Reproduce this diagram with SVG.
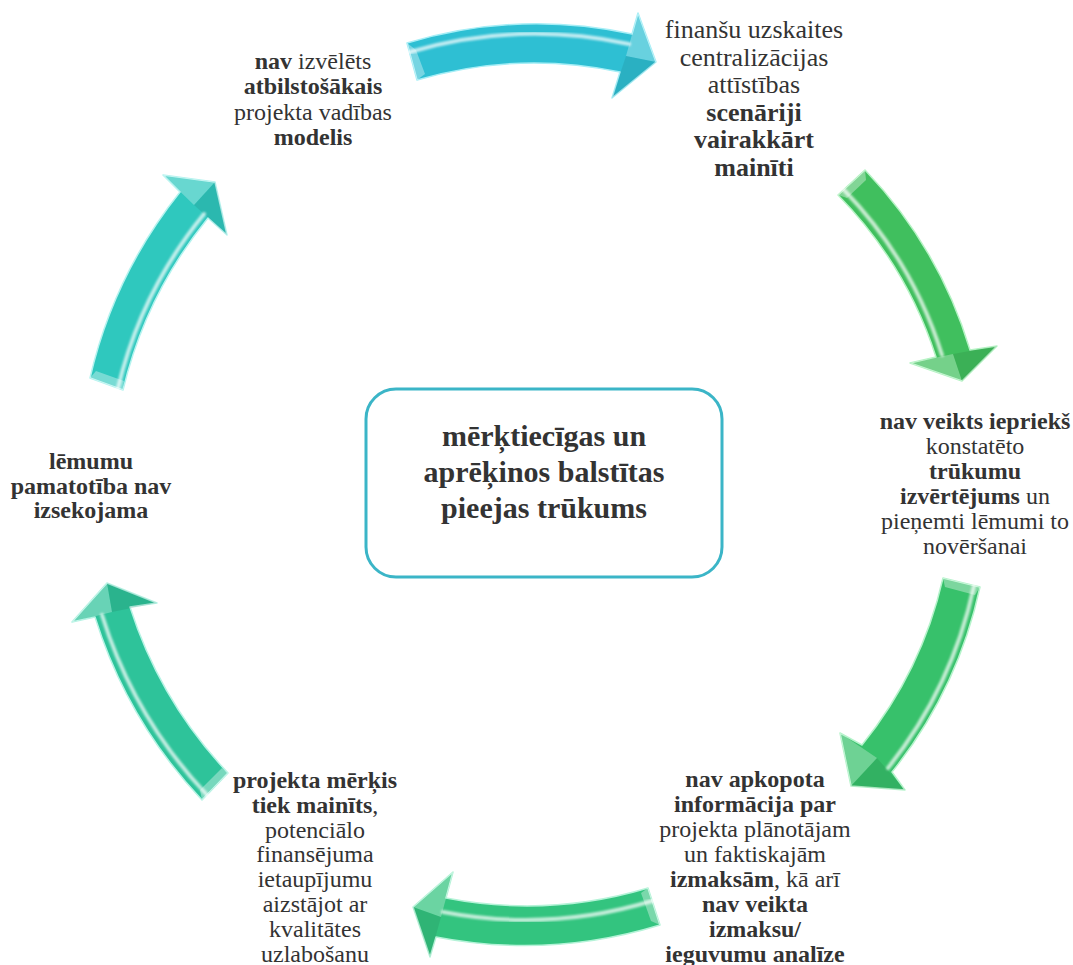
<svg xmlns="http://www.w3.org/2000/svg" width="1073" height="965" viewBox="0 0 1073 965">
  <defs>
    <filter id="soft" x="-10%" y="-10%" width="120%" height="120%">
      <feGaussianBlur stdDeviation="1.2"/>
    </filter>
    <style>
      .lbl { font-family: "Liberation Serif", "Times New Roman", serif; font-size: 24px; fill: #333333; text-anchor: middle; }
      .big { font-size: 26px; }
      .title { font-family: "Liberation Serif", "Times New Roman", serif; font-size: 30px; font-weight: bold; fill: #333333; text-anchor: middle; }
      .b { font-weight: bold; }
      .box { fill: #ffffff; stroke: #3BB5C7; stroke-width: 3; }
      .body { stroke-width: 1.5; stroke-linejoin: round; }
      .shine { fill: none; stroke: #ffffff; stroke-width: 4; stroke-linecap: round; opacity: 0.7; filter: url(#soft); }
      .facet { fill: #ffffff; opacity: 0.28; }
      .bevel { fill: #ffffff; opacity: 0.35; }
      .shade { fill: #000000; opacity: 0.08; }
    </style>
  </defs>

  <rect width="1073" height="965" fill="#ffffff"/>

  <!-- curved block arrows running clockwise round the central box -->
  <g id="connectors">
    <g id="arrow-top">
      <path class="body" fill="#2EBFD3" stroke="#A6EEF6"
            d="M407,43 A455,455 0 0 1 632,34 L638,13 L656,62 L612,98 L620,72 A418,418 0 0 0 417,80 Z"/>
      <path class="bevel" d="M407,43 L417,80 L425,74 L416,50 Z"/>
      <path class="facet" d="M638,13 L656,62 L626,56 Z"/>
      <path class="shade" d="M612,98 L656,62 L626,56 Z"/>
      <path class="shine" d="M410,52 A446,446 0 0 1 629,44"/>
    </g>
    <g id="arrow-top-right">
      <path class="body" fill="#40BF5E" stroke="#B5F3C4"
            d="M865,170 A446,446 0 0 1 970,350 L997,346 L962,381 L910,363 L936,357 A409,409 0 0 0 838,195 Z"/>
      <path class="bevel" d="M838,195 L865,170 L866,180 L847,198 Z"/>
      <path class="facet" d="M910,363 L962,381 L953,354 Z"/>
      <path class="shade" d="M997,346 L962,381 L953,354 Z"/>
      <path class="shine" d="M844,190 A416,416 0 0 1 942,355"/>
    </g>
    <g id="arrow-bottom-right">
      <path class="body" fill="#37C16B" stroke="#B5F3CB"
            d="M980,587 A448,448 0 0 1 892,772 L905,790 L851,786 L840,733 L862,745 A410,410 0 0 0 943,578 Z"/>
      <path class="bevel" d="M943,578 L980,587 L975,595 L945,587 Z"/>
      <path class="facet" d="M840,733 L851,786 L877,758 Z"/>
      <path class="shade" d="M905,790 L851,786 L877,758 Z"/>
      <path class="shine" d="M974,586 A442,442 0 0 1 888,768"/>
    </g>
    <g id="arrow-bottom">
      <path class="body" fill="#33C47F" stroke="#B5F3D8"
            d="M660,925 A464,464 0 0 1 436,937 L430,957 L413,907 L453,872 L446,898 A425,425 0 0 0 648,888 Z"/>
      <path class="bevel" d="M648,888 L660,925 L651,921 L641,893 Z"/>
      <path class="facet" d="M453,872 L413,907 L441,917 Z"/>
      <path class="shade" d="M430,957 L413,907 L441,917 Z"/>
      <path class="shine" d="M652,901 A437,437 0 0 1 443,912"/>
    </g>
    <g id="arrow-bottom-left">
      <path class="body" fill="#2EC39A" stroke="#B5F3E4"
            d="M202,800 A470,470 0 0 1 95,617 L72,622 L107,583 L157,603 L130,607 A433,433 0 0 0 228,773 Z"/>
      <path class="bevel" d="M202,800 L228,773 L222,768 L200,790 Z"/>
      <path class="facet" d="M72,622 L107,583 L112,612 Z"/>
      <path class="shade" d="M157,603 L107,583 L112,612 Z"/>
      <path class="shine" d="M207,795 A463,463 0 0 1 102,615"/>
    </g>
    <g id="arrow-top-left">
      <path class="body" fill="#2FC8BE" stroke="#B5F3EF"
            d="M90,378 A466,466 0 0 1 180,192 L163,175 L215,182 L227,235 L208,218 A430,430 0 0 0 123,390 Z"/>
      <path class="bevel" d="M90,378 L123,390 L124,381 L96,371 Z"/>
      <path class="facet" d="M163,175 L215,182 L194,205 Z"/>
      <path class="shade" d="M227,235 L215,182 L194,205 Z"/>
      <path class="shine" d="M118,388 A435,435 0 0 1 204,214"/>
    </g>
  </g>

  <!-- central statement -->
  <g id="node-center">
    <rect class="box" x="366" y="389" width="356" height="188" rx="30" ry="30"/>
    <text class="title" x="544" y="446">mērķtiecīgas un</text>
    <text class="title" x="544" y="482">aprēķinos balstītas</text>
    <text class="title" x="544" y="518">pieejas trūkums</text>
  </g>

  <g id="node-model">
    <text class="lbl" x="313" y="69"><tspan class="b">nav</tspan> izvēlēts</text>
    <text class="lbl b" x="313" y="94">atbilstošākais</text>
    <text class="lbl" x="313" y="120">projekta vadības</text>
    <text class="lbl b" x="313" y="145">modelis</text>
  </g>

  <g id="node-scenarios">
    <text class="lbl big" x="754" y="38">finanšu uzskaites</text>
    <text class="lbl big" x="754" y="65.5">centralizācijas</text>
    <text class="lbl big" x="754" y="93">attīstības</text>
    <text class="lbl big b" x="754" y="120.5">scenāriji</text>
    <text class="lbl big b" x="754" y="148">vairakkārt</text>
    <text class="lbl big b" x="754" y="176">mainīti</text>
  </g>

  <g id="node-evaluation">
    <text class="lbl b" x="975" y="429">nav veikts iepriekš</text>
    <text class="lbl" x="975" y="454">konstatēto</text>
    <text class="lbl b" x="975" y="479">trūkumu</text>
    <text class="lbl" x="975" y="504"><tspan class="b">izvērtējums</tspan> un</text>
    <text class="lbl" x="975" y="529">pieņemti lēmumi to</text>
    <text class="lbl" x="975" y="554">novēršanai</text>
  </g>

  <g id="node-costs">
    <text class="lbl b" x="755" y="787">nav apkopota</text>
    <text class="lbl b" x="755" y="812">informācija par</text>
    <text class="lbl" x="755" y="837">projekta plānotājam</text>
    <text class="lbl" x="755" y="862">un faktiskajām</text>
    <text class="lbl" x="755" y="887"><tspan class="b">izmaksām</tspan>, kā arī</text>
    <text class="lbl b" x="755" y="912">nav veikta</text>
    <text class="lbl b" x="755" y="937">izmaksu/</text>
    <text class="lbl b" x="755" y="962">ieguvumu analīze</text>
  </g>

  <g id="node-goal">
    <text class="lbl b" x="315" y="788">projekta mērķis</text>
    <text class="lbl" x="315" y="813"><tspan class="b">tiek mainīts</tspan>,</text>
    <text class="lbl" x="315" y="838">potenciālo</text>
    <text class="lbl" x="315" y="862">finansējuma</text>
    <text class="lbl" x="315" y="887">ietaupījumu</text>
    <text class="lbl" x="315" y="912">aizstājot ar</text>
    <text class="lbl" x="315" y="937">kvalitātes</text>
    <text class="lbl" x="315" y="962">uzlabošanu</text>
  </g>

  <g id="node-decisions">
    <text class="lbl b" x="91" y="469">lēmumu</text>
    <text class="lbl b" x="91" y="494">pamatotība nav</text>
    <text class="lbl b" x="91" y="518">izsekojama</text>
  </g>
</svg>
